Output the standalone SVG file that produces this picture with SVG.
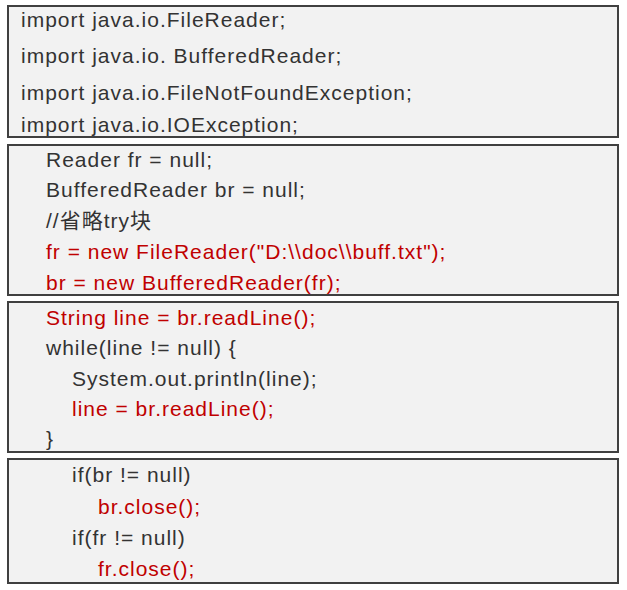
<svg xmlns="http://www.w3.org/2000/svg" width="627" height="590" viewBox="0 0 627 590">
<style>
.box{fill:#f2f2f2;stroke:#404040;stroke-width:2}
text{font-family:"Liberation Sans","Noto Sans CJK SC",sans-serif;font-size:21px;letter-spacing:1px;fill:#333}
.r{fill:#c00000}
</style>
<rect width="627" height="590" fill="#fff"/>
<g id="imports"><rect class="box" x="8" y="6" width="610" height="131"/>
<text x="21" y="27">import java.io.FileReader;</text>
<text x="21" y="63">import java.io. BufferedReader;</text>
<text x="21" y="100">import java.io.FileNotFoundException;</text>
<text x="21" y="132">import java.io.IOException;</text></g>
<g id="open"><rect class="box" x="8" y="145" width="610" height="150"/>
<text x="46" y="167">Reader fr = null;</text>
<text x="46" y="197">BufferedReader br = null;</text>
<text x="46" y="228">//省略try块</text>
<text class="r" x="46" y="259">fr = new FileReader("D:\\doc\\buff.txt");</text>
<text class="r" x="46" y="290">br = new BufferedReader(fr);</text></g>
<g id="read"><rect class="box" x="8" y="302" width="610" height="150"/>
<text class="r" x="46" y="325">String line = br.readLine();</text>
<text x="46" y="355">while(line != null) {</text>
<text x="72" y="386">System.out.println(line);</text>
<text class="r" x="72" y="416">line = br.readLine();</text>
<text x="46" y="446">}</text></g>
<g id="close"><rect class="box" x="8" y="459" width="610" height="124"/>
<text x="72" y="482">if(br != null)</text>
<text class="r" x="98" y="514">br.close();</text>
<text x="72" y="545">if(fr != null)</text>
<text class="r" x="98" y="576">fr.close();</text></g>
<g id="connectors"/>
</svg>
